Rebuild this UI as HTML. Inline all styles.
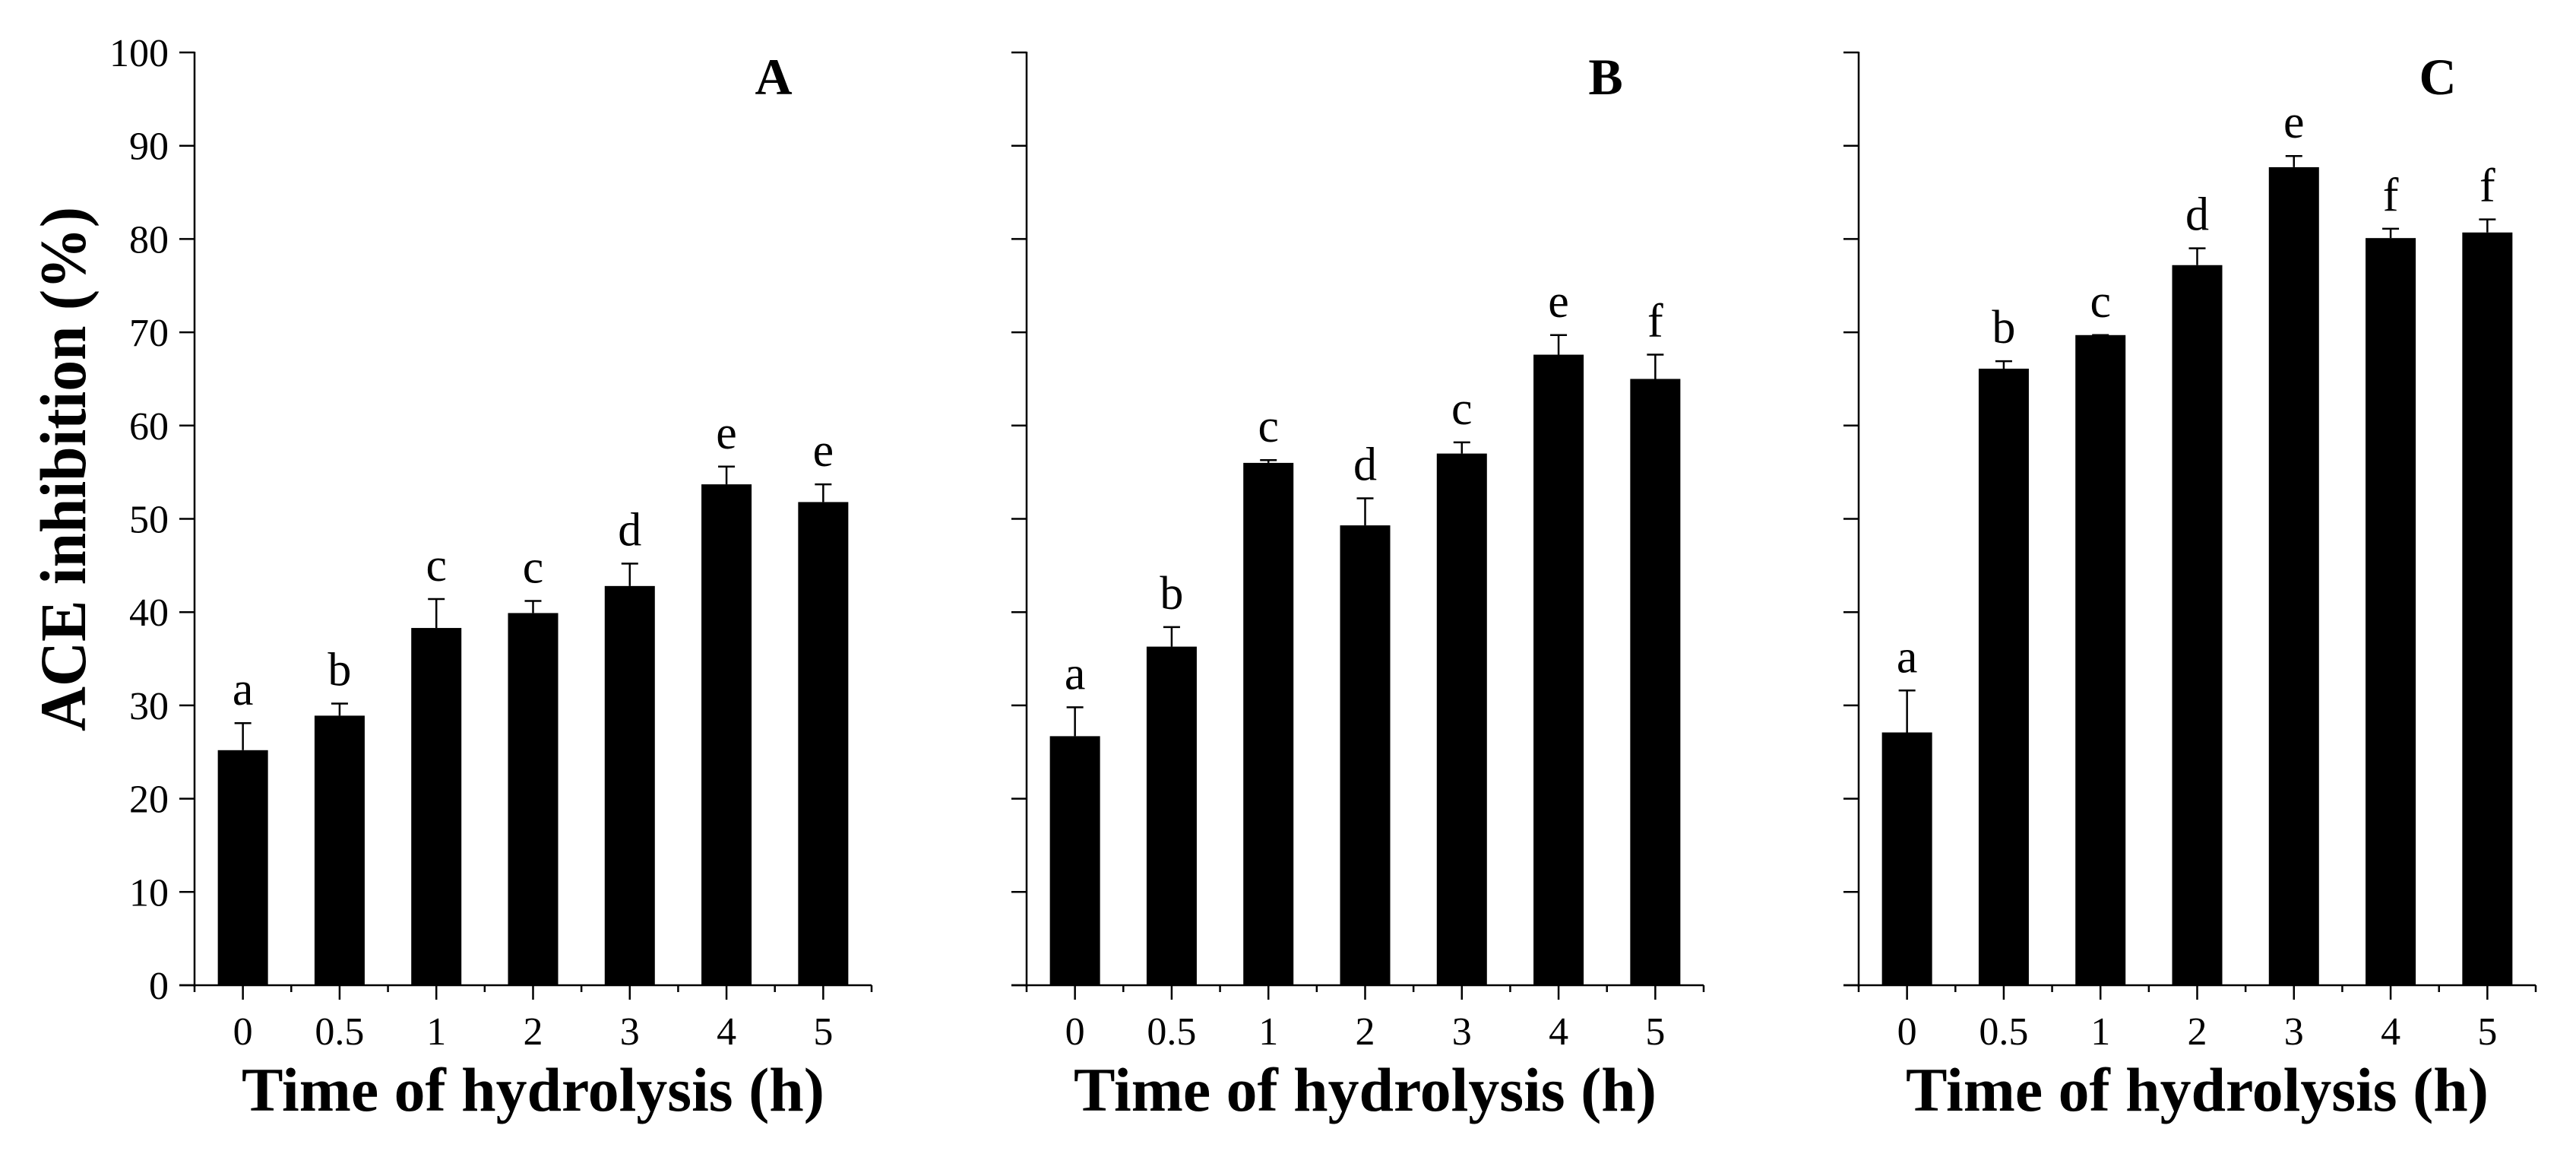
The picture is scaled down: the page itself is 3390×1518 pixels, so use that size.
<!DOCTYPE html>
<html><head><meta charset="utf-8"><style>
html,body{margin:0;padding:0;background:#fff;}
svg{display:block;font-family:"Liberation Serif",serif;}
</style></head><body>
<svg id="chart" width="3390" height="1518" viewBox="0 0 3390 1518" xmlns="http://www.w3.org/2000/svg">
<rect width="3390" height="1518" fill="#fff"/>
<text transform="translate(112,617) rotate(-90)" text-anchor="middle" font-size="86" font-weight="bold" textLength="690" lengthAdjust="spacingAndGlyphs">ACE inhibition (%)</text>
</svg>
<script>
const categories = ["0","0.5","1","2","3","4","5"];
const panelNames = ["A","B","C"];
const valuesA = [25.2, 28.9, 38.3, 39.9, 42.8, 53.7, 51.8];
const errorsA = [2.9, 1.3, 3.1, 1.3, 2.4, 1.9, 1.9];
const lettersA = ["a","b","c","c","d","e","e"];
const valuesB = [26.7, 36.3, 56.0, 49.3, 57.0, 67.6, 65.0];
const errorsB = [3.1, 2.1, 0.3, 2.9, 1.2, 2.1, 2.6];
const lettersB = ["a","b","c","d","c","e","f"];
const valuesC = [27.1, 66.1, 69.7, 77.2, 87.7, 80.1, 80.7];
const errorsC = [4.5, 0.8, 0.0, 1.8, 1.2, 1.0, 1.4];
const lettersC = ["a","b","c","d","e","f","f"];
const yTicks = [0,10,20,30,40,50,60,70,80,90,100];

const NS = "http://www.w3.org/2000/svg";
const svg = document.getElementById("chart");
const Y0 = 1296, Y100 = 69;
const yScale = v => Y0 - (v / 100) * (Y0 - Y100);
const axisLen = 891, slot = axisLen / 7, barW = 66;
function mk(tag, attrs, parent) {
  const e = document.createElementNS(NS, tag);
  for (const k in attrs) e.setAttribute(k, attrs[k]);
  (parent || svg).appendChild(e);
  return e;
}
const panels = [
  {x0: 256, vals: valuesA, errs: errorsA, lets: lettersA, labels: true},
  {x0: 1351, vals: valuesB, errs: errorsB, lets: lettersB, labels: false},
  {x0: 2446, vals: valuesC, errs: errorsC, lets: lettersC, labels: false}
];
panels.forEach((p, pi) => {
  const g = mk("g", {});
  
  
  const xScale = i => p.x0 + slot * (i + 0.5);
  // bars
  p.vals.forEach((v, i) => {
    const cx = xScale(i);
    const b = mk("rect", {x: cx - barW / 2, y: yScale(v), width: barW, height: Y0 - yScale(v), fill: "#000"}, g);
    
    
    const et = yScale(v + p.errs[i]);
    const el = mk("path", {d: `M${cx},${yScale(v)}V${et}M${cx - 11},${et}H${cx + 11}`, stroke: "#000", "stroke-width": 2.5, fill: "none"}, g);
    
    
    const t = mk("text", {x: cx, y: et - 24, "text-anchor": "middle", "font-size": 62}, g);
    t.textContent = p.lets[i];
    
    
  });
  // y axis
  const ya = mk("line", {x1: p.x0, y1: Y100 - 1, x2: p.x0, y2: Y0 + 2, stroke: "#000", "stroke-width": 2.5}, g);
  
  
  yTicks.forEach(t => {
    mk("line", {x1: p.x0 - 20, y1: yScale(t), x2: p.x0, y2: yScale(t), stroke: "#000", "stroke-width": 2.5}, g);
    if (p.labels) {
      const l = mk("text", {x: 222, y: yScale(t) + 18, "text-anchor": "end", "font-size": 52}, g);
      l.textContent = t;
      
      
    }
  });
  // x axis
  const xa = mk("line", {x1: p.x0 - 20, y1: Y0, x2: p.x0 + axisLen, y2: Y0, stroke: "#000", "stroke-width": 2.5}, g);
  
  
  for (let k = 0; k <= 14; k++) {
    const x = p.x0 + k * axisLen / 14;
    const major = k % 2 === 1;
    mk("line", {x1: x, y1: Y0, x2: x, y2: Y0 + (major ? 19 : 9), stroke: "#000", "stroke-width": 2.5}, g);
  }
  categories.forEach((c, i) => {
    const l = mk("text", {x: xScale(i), y: 1374, "text-anchor": "middle", "font-size": 52}, g);
    l.textContent = c;
    
    
  });
  const xt = mk("text", {x: p.x0 + axisLen / 2, y: 1461, "text-anchor": "middle", "font-size": 82, "font-weight": "bold", textLength: 767, lengthAdjust: "spacingAndGlyphs"}, g);
  xt.textContent = "Time of hydrolysis (h)";
  
  
  const pl = mk("text", {x: p.x0 + 762, y: 124, "text-anchor": "middle", "font-size": 68, "font-weight": "bold"}, g);
  pl.textContent = panelNames[pi];
  
  
});
</script>
</body></html>
